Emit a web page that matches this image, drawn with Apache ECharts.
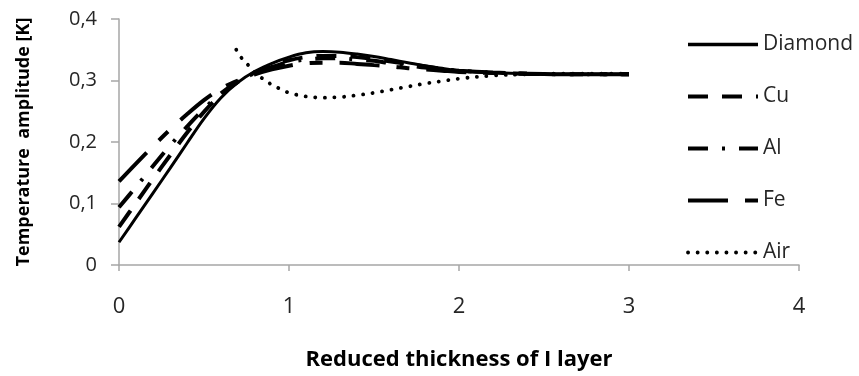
<!DOCTYPE html>
<html>
<head>
<meta charset="utf-8">
<script src="https://cdn.jsdelivr.net/npm/echarts@6/dist/echarts.min.js"></script>
<style>html,body{margin:0;padding:0;background:#fff}#c{width:859px;height:376px}</style>
</head>
<body>
<div id="c"></div>
<script>
const xTicks = [0, 1, 2, 3, 4];
const yTicks = [0, 0.1, 0.2, 0.3, 0.4];
const xMetal = [0,0.1,0.2,0.3,0.4,0.5,0.6,0.7,0.8,0.9,1.0,1.1,1.2,1.3,1.4,1.5,1.6,1.7,1.8,1.9,2.0,2.2,2.4,2.6,2.8,3.0];
const diamond = [0.037,0.077,0.117,0.157,0.198,0.238,0.272,0.297,0.315,0.328,0.338,0.345,0.347,0.346,0.343,0.339,0.334,0.329,0.324,0.320,0.316,0.313,0.311,0.310,0.310,0.310];
const cu = [0.062,0.101,0.140,0.178,0.215,0.249,0.277,0.298,0.313,0.325,0.333,0.338,0.340,0.340,0.338,0.335,0.331,0.327,0.323,0.319,0.316,0.313,0.311,0.310,0.310,0.310];
const al = [0.094,0.127,0.161,0.194,0.225,0.254,0.279,0.298,0.312,0.322,0.330,0.334,0.336,0.336,0.334,0.332,0.328,0.325,0.321,0.318,0.316,0.313,0.311,0.310,0.310,0.310];
const fe = [0.136,0.165,0.193,0.220,0.245,0.268,0.287,0.300,0.310,0.318,0.324,0.328,0.329,0.329,0.327,0.325,0.323,0.320,0.318,0.316,0.314,0.312,0.311,0.310,0.310,0.310];
const xAir = [0.69,0.72,0.76,0.8,0.85,0.9,0.95,1.0,1.1,1.2,1.3,1.4,1.5,1.6,1.7,1.8,1.9,2.0,2.2,2.4,2.6,2.8,3.0];
const air = [0.350,0.337,0.325,0.313,0.302,0.293,0.286,0.280,0.274,0.272,0.273,0.276,0.280,0.285,0.290,0.295,0.299,0.303,0.308,0.310,0.311,0.311,0.311];
const names = ['Diamond', 'Cu', 'Al', 'Fe', 'Air'];

const pairs = (xs, ys) => xs.map((x, i) => [x, ys[i]]);
const font = 'Open Sans';

const styles = {
  Diamond: { type: 'solid', width: 3.5, cap: 'butt' },
  Cu: { type: [20, 14], width: 4, cap: 'butt' },
  Al: { type: [20, 14, 3, 14], width: 4, cap: 'butt' },
  Fe: { type: [40, 17, 13, 17], width: 4, cap: 'butt' },
  Air: { type: [0.1, 9.5], width: 3.8, cap: 'round' }
};

function mk(name, data) {
  const s = styles[name];
  return {
    name, type: 'line', data, smooth: 0.35, symbol: 'none', showSymbol: false,
    lineStyle: { color: '#000', width: name === 'Diamond' ? 3 : s.width, type: s.type, cap: s.cap },
    itemStyle: { color: '#000' }
  };
}

const chart = echarts.init(document.getElementById('c'), null, { renderer: 'canvas' });
chart.setOption({
  backgroundColor: '#fff',
  animation: false,
  grid: { left: 119, right: 60, top: 19, bottom: 108, containLabel: false },
  legend: {
    orient: 'vertical', left: 681, top: 29, itemWidth: 70, itemHeight: 14, itemGap: 31,
    itemStyle: { opacity: 0 },
    data: names.map(n => ({ name: n, lineStyle: { color: '#000', width: styles[n].width, type: styles[n].type, cap: styles[n].cap }, itemStyle: { opacity: 0 } })),
    textStyle: { fontFamily: font, fontSize: 21, color: '#262626', padding: [0, 0, 0, 0] }
  },
  xAxis: {
    type: 'value', min: xTicks[0], max: xTicks[xTicks.length - 1], interval: 1,
    name: 'Reduced thickness of I layer', nameLocation: 'middle', nameGap: 84,
    nameTextStyle: { fontFamily: font, fontSize: 22, fontWeight: 'bold', color: '#000' },
    axisLine: { show: true, lineStyle: { color: '#a6a6a6', width: 1.5 } },
    axisTick: { show: true, inside: false, length: 6, lineStyle: { color: '#a6a6a6', width: 1.5 } },
    axisLabel: { margin: 31, fontFamily: font, fontSize: 22, color: '#262626' },
    splitLine: { show: false }
  },
  yAxis: {
    type: 'value', min: yTicks[0], max: yTicks[yTicks.length - 1], interval: 0.1,
    name: 'Temperature  amplitude [K]', nameLocation: 'middle', nameGap: 86, nameRotate: 90,
    nameTextStyle: { fontFamily: font, fontSize: 18, fontWeight: 'bold', color: '#000' },
    axisLine: { show: true, lineStyle: { color: '#a6a6a6', width: 1.5 } },
    axisTick: { show: true, inside: false, length: 8, lineStyle: { color: '#a6a6a6', width: 1.5 } },
    axisLabel: { margin: 22, fontFamily: font, fontSize: 20, color: '#262626',
      formatter: v => (Math.round(v * 10) / 10).toString().replace('.', ',') },
    splitLine: { show: false }
  },
  series: [
    mk('Fe', pairs(xMetal, fe)),
    mk('Al', pairs(xMetal, al)),
    mk('Cu', pairs(xMetal, cu)),
    mk('Air', pairs(xAir, air)),
    mk('Diamond', pairs(xMetal, diamond))
  ]
});
</script>
</body>
</html>
